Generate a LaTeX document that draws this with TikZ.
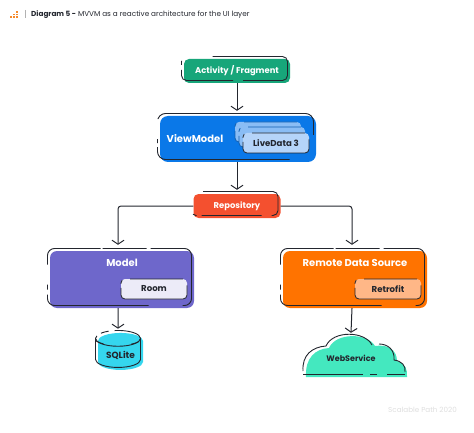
\documentclass[tikz,border=0pt]{standalone}
\usepackage{fontspec}
\setmainfont{Poppins}
\usepackage{tikz}
\usetikzlibrary{arrows.meta,shapes.geometric}

\definecolor{ink}{HTML}{23262E}
\definecolor{activitygreen}{HTML}{17A67A}
\definecolor{viewblue}{HTML}{0A78E8}
\definecolor{livedatablue}{HTML}{B5D4F9}
\definecolor{repored}{HTML}{F4502F}
\definecolor{modelpurple}{HTML}{6E67CB}
\definecolor{roomlilac}{HTML}{ECEBF8}
\definecolor{sqlitecyan}{HTML}{35D6EE}
\definecolor{remoteorange}{HTML}{FF7300}
\definecolor{retrofitpeach}{HTML}{FFB787}
\definecolor{cloudmint}{HTML}{44E8BF}
\definecolor{logoorange}{HTML}{F58A2C}

\begin{document}
\begin{tikzpicture}[x=1pt,y=-1pt,
		every node/.style = {align=center, inner sep=0pt},
		sketch/.style = {postaction={draw=ink, line width=0.9pt,
				dash pattern=#1,
				transform canvas={shift={(-2.5pt,2.5pt)}}}},
		bigbox/.style = {shape=rectangle, rounded corners=7pt,
				sketch={on 34pt off 4pt on 44pt off 2pt on 66pt off 20pt on 5pt off 5pt on 109pt off 34pt on 90pt},
				minimum width=144pt, minimum height=57pt},
		smallbox/.style = {shape=rectangle, rounded corners=5pt,
				sketch={on 70pt off 33pt on 4pt off 5pt on 60pt off 10pt on 70pt},
				font=\bfseries\fontsize{8.4}{10}\selectfont, text=white},
		innerbox/.style = {shape=rectangle, rounded corners=4pt, draw=ink, line width=0.8pt,
				dash pattern=on 53pt off 8pt on 4pt off 4pt on 87pt off 14pt,
				minimum width=66pt, minimum height=20pt,
				font=\bfseries\fontsize{8.6}{10}\selectfont, text=ink},
		connect/.style = {draw=ink, line width=1pt, rounded corners=3pt,
				-{Straight Barb[length=4pt,width=12pt,line width=1pt]}},
		title/.style = {font=\bfseries\fontsize{10}{12}\selectfont, text=white}
	]
	\useasboundingbox (0,0) rectangle (474,433);

	% header
	\foreach \px/\py in {11/17, 14/17, 17/17, 14/14.5, 17/14.5, 17/12}
		\fill[logoorange] (\px-1,\py-0.8) rectangle (\px+0.8,\py+0.8);
	\draw[gray!60, line width=0.5pt] (25,10) -- (25,18);
	\node (header) [anchor=west, text=ink, font=\fontsize{7.25}{9}\selectfont] at (31,15)
		{\textbf{Diagram 5 -} MVVM as a reactive architecture for the UI layer};

	% boxes
	\node (activity) [smallbox, fill=activitygreen, minimum width=106pt, minimum height=24pt] at (237,71) {Activity / Fragment};
	\node (viewmodel) [shape=rectangle, rounded corners=8pt, fill=viewblue, minimum width=156pt, minimum height=46pt,
		sketch={on 150pt off 20pt on 4pt off 4pt on 141pt off 45pt on 60pt}] at (238,139) {};
	\node (viewtitle) [title] at (195,139) {ViewModel};
	\node (livedata1) [innerbox, draw=viewblue!70!ink, fill=livedatablue!75!viewblue] at (268,132) {};
	\node (livedata2) [innerbox, draw=viewblue!70!ink, fill=livedatablue!75!viewblue] at (272,137) {};
	\node (livedata3) [innerbox, fill=livedatablue] at (276,143) {LiveData 3};
	\node (repository) [smallbox, fill=repored, minimum width=87pt, minimum height=24pt] at (237,206) {Repository};

	\node (model) [bigbox, fill=modelpurple] at (122,279.5) {};
	\node (modeltitle) [title] at (122,263) {Model};
	\node (room) [innerbox, fill=roomlilac] at (154,289) {Room};

	\node (remote) [bigbox, fill=remoteorange] at (355,279.5) {};
	\node (remotetitle) [title] at (355,263) {Remote Data Source};
	\node (retrofit) [innerbox, fill=retrofitpeach] at (388,289) {Retrofit};

	\node (sqlite) [shape=cylinder, shape border rotate=90, aspect=0.55, fill=sqlitecyan,
		sketch={on 100pt off 6pt on 8pt off 5pt on 120pt},
		minimum width=45pt, minimum height=37pt, text=ink,
		font=\bfseries\fontsize{9}{10}\selectfont] at (120.5,355.5) {SQLite};
	\draw[ink, line width=0.9pt, dash pattern=on 8pt off 28pt on 8pt] (96,341) .. controls (106,347) and (130,347) .. (140,341);

	% cloud
	\fill[cloudmint] (309,377) -- (407,377) .. controls (408,370) and (405,363) .. (397,361)
		.. controls (397,350) and (388,344) .. (375,346) .. controls (368,333) and (336,332) .. (329,348)
		.. controls (315,349) and (305,358) .. (306,377) -- cycle;
	\draw[ink, line width=0.9pt]
		(303,371) .. controls (302,355) and (312,347) .. (326,346) .. controls (333,330) and (365,331) .. (372,345);
	\draw[ink, line width=0.9pt]
		(379,344) .. controls (388,344) and (395,350) .. (394,360) .. controls (402,361) and (406,366) .. (405,372);
	\draw[ink, line width=0.9pt, dash pattern=on 18pt off 10pt on 7pt off 7pt on 60pt] (405,374) -- (303,374);
	\node (webservice) [minimum width=104pt, minimum height=42pt, text=ink,
		font=\bfseries\fontsize{8}{10}\selectfont] at (351,358) {WebService};

	% connectors
	\draw[connect] (activity.south) -- ([xshift=-1pt,yshift=5pt]viewmodel.north);
	\draw[connect] (viewmodel.south -| repository.north) -- ([yshift=4pt]repository.north);
	\draw[connect] (repository.west) -| ([xshift=-4pt,yshift=6pt]model.north);
	\draw[connect] (repository.east) -| ([xshift=-3pt,yshift=6pt]remote.north);
	\draw[connect] ([xshift=-4pt]model.south) -- ([xshift=-2.5pt,yshift=4pt]sqlite.north);
	\draw[connect] ([xshift=-3pt]remote.south) -- ([yshift=4pt]webservice.north);

	% footer
	\node (footer) [anchor=east, text=black!13, font=\fontsize{7.2}{8}\selectfont] at (457,410) {Scalable Path 2020};
\end{tikzpicture}
\end{document}
